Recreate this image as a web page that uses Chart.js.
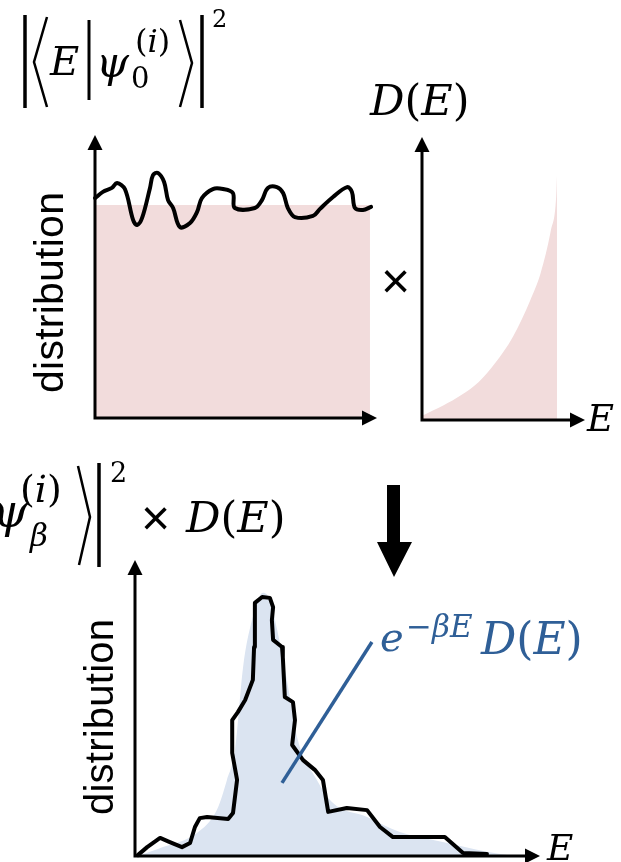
<!DOCTYPE html>
<html>
<head>
<meta charset="utf-8">
<script src="https://cdn.jsdelivr.net/npm/chart.js@4.4.1/dist/chart.umd.min.js"></script>
<style>
html, body { margin: 0; padding: 0; background: #fff; overflow: hidden; width: 621px; height: 862px; }
canvas { position: absolute; }
#labels { position: absolute; left: 0; top: 0; }
</style>
</head>
<body>
<canvas id="overlapChart" width="315" height="310" style="left:75px;top:120px"></canvas>
<canvas id="dosChart" width="185" height="310" style="left:405px;top:120px"></canvas>
<canvas id="thermalChart" width="435" height="317" style="left:115px;top:545px"></canvas>

<svg id="labels" width="621" height="862" font-family="'DejaVu Serif', serif">
  <!-- brackets and bars of the two formulas -->
  <g stroke="#000" fill="none">
    <line x1="25" y1="15" x2="25" y2="108" stroke-width="3.5"/>
    <polyline points="47,17 34,62 47,107" stroke-width="2.5"/>
    <line x1="89" y1="20" x2="89" y2="100" stroke-width="3"/>
    <polyline points="180,20 192,63 180,107" stroke-width="2.5"/>
    <line x1="202" y1="15" x2="202" y2="108" stroke-width="3.5"/>
    <polyline points="78,466 90,517 79,565" stroke-width="2.5"/>
    <line x1="99" y1="463" x2="99" y2="567" stroke-width="3.5"/>
  </g>
  <polygon points="387,485 400,485 400,542 412,542 394,577 377,542 387,542" fill="#000"/>

  <!-- |<E|psi_0^(i)>|^2 -->
  <text x="50" y="75" font-size="40" font-style="italic">E</text>
  <text x="96" y="77" font-size="42" font-style="italic">ψ</text>
  <text x="131" y="88" font-size="29">0</text>
  <text x="135" y="52" font-size="32">(<tspan font-style="italic">i</tspan>)</text>
  <text x="212" y="27" font-size="24">2</text>

  <!-- D(E) panel -->
  <text x="370" y="115" font-size="43"><tspan font-style="italic">D</tspan>(<tspan font-style="italic">E</tspan>)</text>
  <text x="381" y="298" font-family="'Liberation Sans', sans-serif" font-size="50">×</text>
  <text x="587" y="431" font-size="37" font-style="italic">E</text>

  <!-- |<E|psi_beta^(i)>|^2 x D(E) -->
  <text x="-8" y="527" font-size="46" font-style="italic">ψ</text>
  <text x="20" y="502" font-size="38">(<tspan font-style="italic">i</tspan>)</text>
  <text x="30" y="546" font-size="31" font-style="italic">β</text>
  <text x="110" y="482" font-size="27">2</text>
  <text x="141" y="535" font-family="'Liberation Sans', sans-serif" font-size="50">×</text>
  <text x="186" y="532" font-size="43"><tspan font-style="italic">D</tspan>(<tspan font-style="italic">E</tspan>)</text>
  <text x="547" y="860" font-size="36" font-style="italic">E</text>

  <!-- e^{-beta E} D(E) -->
  <g fill="#2f5f97">
    <text x="380" y="651" font-size="40" font-style="italic">e</text>
    <text x="406" y="637" font-size="31">−<tspan font-style="italic">βE</tspan></text>
    <text x="481" y="654" font-size="44"><tspan font-style="italic">D</tspan>(<tspan font-style="italic">E</tspan>)</text>
  </g>

  <!-- axis titles -->
  <g font-family="'Liberation Sans', sans-serif">
    <text transform="translate(63,393) rotate(-90)" font-size="41" textLength="201">distribution</text>
    <text transform="translate(113,815) rotate(-90)" font-size="40" textLength="196">distribution</text>
  </g>
</svg>

<script>
// top left panel: overlap with the initial state, noisy around a flat level
var overlapE    = [0, 0.28, 0.60, 0.78, 1.06, 1.35, 1.49, 1.67, 1.95, 2.06, 2.23, 2.45, 2.59, 2.77, 3.01, 3.37, 3.62, 3.79,
                   4.18, 4.54, 4.89, 4.96, 5.67, 5.92, 6.13, 6.45, 6.67, 6.84, 7.09, 7.73, 7.98, 8.44, 8.94, 9.11, 9.22, 9.50, 9.79];
var overlapDist = [77.7, 79.9, 81.3, 83.0, 80.9, 70.0, 68.2, 70.7, 81.3, 85.9, 86.6, 83.4, 77.0, 74.2, 67.5, 68.9, 72.8, 77.7,
                   80.9, 80.9, 79.5, 74.2, 74.2, 77.0, 81.3, 81.6, 79.5, 74.2, 71.0, 71.4, 73.9, 78.1, 81.6, 79.9, 74.2, 73.5, 74.6];
var flatE    = [0, 9.75];
var flatDist = [75.3, 75.3];

// top right panel: density of states
var dosE   = [0, 1.33, 2.41, 3.48, 4.49, 5.57, 6.65, 7.28, 7.91, 8.23, 8.29];
var dosVal = [1.5, 5.2, 8.8, 13.4, 20.1, 29.3, 42.4, 51.9, 67.1, 78.8, 87.6];

// bottom panel: sampled distribution (black) and e^{-beta E} D(E) (blue)
var sampleE    = [0.07, 0.30, 0.62, 0.86, 1.16, 1.36, 1.48, 1.60, 1.78, 2.30, 2.42, 2.52, 2.40, 2.40, 2.54, 2.72, 2.91, 2.94, 2.96,
                  3.14, 3.33, 3.41, 3.38, 3.41, 3.63, 3.65, 3.70, 3.90, 3.95, 3.88, 4.15, 4.44, 4.64, 4.77, 5.23, 5.73, 6.05,
                  6.37, 7.65, 8.10, 8.69];
var sampleDist = [0.3, 3.0, 6.1, 4.7, 3.0, 4.4, 9.8, 12.8, 13.2, 12.5, 14.5, 25.7, 34.8, 45.9, 48.6, 52.7, 59.5, 70.6, 85.5,
                  87.5, 87.2, 84.1, 79.7, 73.0, 70.6, 67.2, 53.7, 52.0, 45.9, 37.5, 32.4, 29.1, 25.7, 14.9, 16.2, 15.5, 9.8,
                  6.4, 6.4, 1.0, 0.7];
var thermalE    = [0, 0.12, 0.69, 1.53, 2.02, 2.27, 2.47, 2.67, 2.89, 3.16, 3.33, 3.51, 3.75, 4.00, 4.49, 4.89, 5.73, 6.54, 7.60, 8.69, 9.19];
var thermalDist = [0, 0.3, 3.0, 7.8, 15.5, 25.7, 35.8, 63.9, 79.7, 88.9, 86.5, 76.4, 59.5, 40.2, 25.7, 17.9, 13.2, 8.1, 4.7, 1.4, 0.3];
var pointerE    = [3.63, 5.85];
var pointerDist = [24.7, 72.3];

function pts(xs, ys) {
    var out = [];
    for (var i = 0; i < xs.length; i++) out.push({ x: xs[i], y: ys[i] });
    return out;
}

// arrows for both axes, drawn over the data
var axisArrows = {
    id: 'axisArrows',
    afterDatasetsDraw: function (chart) {
        var a = chart.chartArea, ctx = chart.ctx, h = 15, w = 7.5;
        ctx.save();
        ctx.strokeStyle = '#000';
        ctx.fillStyle = '#000';
        ctx.lineWidth = 3;
        ctx.beginPath();
        ctx.moveTo(a.left, a.top + h - 2);
        ctx.lineTo(a.left, a.bottom);
        ctx.lineTo(a.right - h + 2, a.bottom);
        ctx.stroke();
        ctx.beginPath();
        ctx.moveTo(a.left, a.top);
        ctx.lineTo(a.left - w, a.top + h);
        ctx.lineTo(a.left + w, a.top + h);
        ctx.fill();
        ctx.beginPath();
        ctx.moveTo(a.right, a.bottom);
        ctx.lineTo(a.right - h, a.bottom - w);
        ctx.lineTo(a.right - h, a.bottom + w);
        ctx.fill();
        ctx.restore();
    }
};

function makeChart(id, pad, datasets) {
    return new Chart(document.getElementById(id), {
        type: 'line',
        data: { datasets: datasets },
        options: {
            responsive: false,
            animation: false,
            devicePixelRatio: 1,
            layout: { padding: pad },
            plugins: { legend: { display: false }, tooltip: { enabled: false } },
            elements: { point: { radius: 0 } },
            scales: {
                x: { type: 'linear', min: 0, max: 10, display: false },
                y: { type: 'linear', min: 0, max: 100, display: false }
            }
        },
        plugins: [axisArrows]
    });
}

var pink = '#f2dcdc';

makeChart('overlapChart', { left: 20, top: 15, right: 13, bottom: 12 }, [
    { data: pts(overlapE, overlapDist), borderColor: '#000', borderWidth: 4, tension: 0.35,
      borderJoinStyle: 'round', borderCapStyle: 'round', fill: false, clip: false, order: 1 },
    { data: pts(flatE, flatDist), borderWidth: 0, backgroundColor: pink, fill: 'origin', order: 2 }
]);

makeChart('dosChart', { left: 17, top: 17, right: 5, bottom: 10 }, [
    { data: pts(dosE, dosVal), borderWidth: 0, backgroundColor: pink, fill: 'origin',
      cubicInterpolationMode: 'monotone' }
]);

makeChart('thermalChart', { left: 20, top: 15, right: 10, bottom: 6 }, [
    { data: pts(pointerE, pointerDist), borderColor: '#2f5f97', borderWidth: 3.5, fill: false, clip: false, order: 0 },
    { data: pts(sampleE, sampleDist), borderColor: '#000', borderWidth: 4, tension: 0,
      borderJoinStyle: 'round', borderCapStyle: 'round', fill: false, clip: false, order: 1 },
    { data: pts(thermalE, thermalDist), borderWidth: 0, backgroundColor: '#dbe4f1', fill: 'origin',
      cubicInterpolationMode: 'monotone', order: 2 }
]);
</script>
</body>
</html>
